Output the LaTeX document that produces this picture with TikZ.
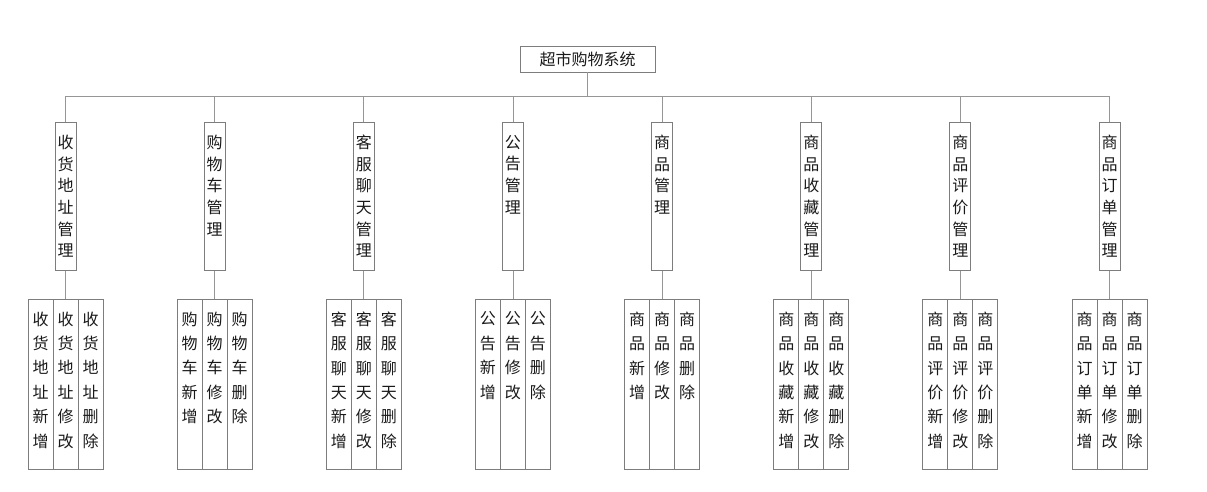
\documentclass[tikz,border=0pt]{standalone}
\usepackage{fontspec}
\setmainfont{Noto Sans CJK SC}
\definecolor{boxgray}{RGB}{125,125,125}
\definecolor{wiregray}{RGB}{150,150,150}
\definecolor{textgray}{RGB}{25,25,25}
\tikzset{
  box/.style={draw=boxgray,line width=.9pt,inner sep=0pt},
  wire/.style={draw=wiregray,line width=.9pt},
  mtext/.style={text=textgray,inner sep=0pt,align=center,font=\fontsize{16}{21.6}\selectfont},
  ltext/.style={text=textgray,inner sep=0pt,align=center,font=\fontsize{16}{24.4}\selectfont}
}

\begin{document}
\begin{tikzpicture}[x=1pt,y=-1pt]
\useasboundingbox (0,0) rectangle (1207,491);
\node[box,minimum width=135pt,minimum height=26pt,text=textgray,font=\fontsize{16}{16}\selectfont] (root) at (587.5,59) {超市购物系统};
\coordinate (bus) at (587.5,96);
\draw[wire] (root.south) -- (bus);
\foreach \i/\name in {0/{收\\货\\地\\址},1/{购\\物\\车},2/{客\\服\\聊\\天},3/{公\\告},
                      4/{商\\品},5/{商\\品\\收\\藏},6/{商\\品\\评\\价},7/{商\\品\\订\\单}}{
  \pgfmathsetmacro\cx{65.5+149.15*\i}
  \node[box,anchor=north,minimum width=21pt,minimum height=148pt] (m\i) at (\cx,122) {};
  \node[mtext,anchor=north] (mt\i) at ([yshift=-13pt]m\i.north) {\name\\管\\理};
  \draw[wire] (m\i.north) -- (m\i.north |- bus);
  \foreach \j/\act in {-1/{新\\增},0/{修\\改},1/{删\\除}}{
    \node[box,anchor=north,minimum width=25pt,minimum height=170pt] (l\i\j) at (\cx+25*\j,299) {};
    \node[ltext,anchor=north] (lt\i\j) at ([yshift=-12.5pt]l\i\j.north) {\name\\\act};
  }
  \draw[wire] (m\i.south) -- (l\i0.north);
}
\draw[wire] (m0.north |- bus) -- (m7.north |- bus);
\end{tikzpicture}
\end{document}
